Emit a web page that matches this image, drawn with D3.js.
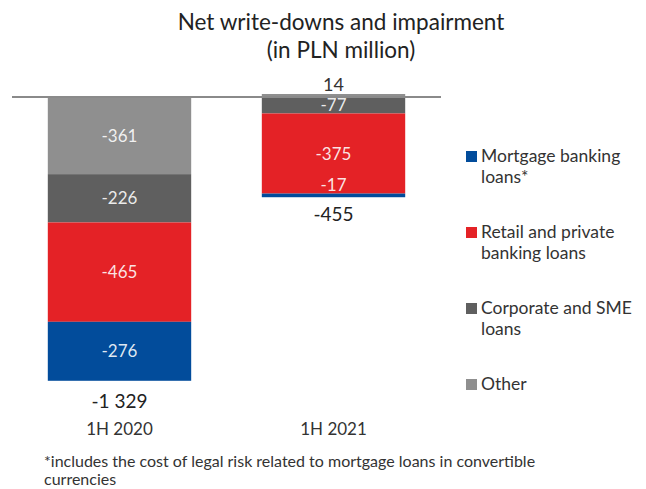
<!DOCTYPE html>
<html>
<head>
<meta charset="utf-8">
<script src="https://cdn.jsdelivr.net/npm/d3@7"></script>
<style>
  html, body { margin: 0; padding: 0; background: #fff; }
  svg { display: block; font-family: Lato, "Liberation Sans", sans-serif; }
</style>
</head>
<body>
<svg id="chart" width="646" height="489"></svg>
<script>
// Half-year periods shown on the axis
const categories = ["1H 2020", "1H 2021"];

// Segments, stacked outward from zero in this order
const seriesNames = ["Other", "Corporate and SME loans", "Retail and private banking loans", "Mortgage banking loans*"];
const otherValues = [-361, 14];
const corporateValues = [-226, -77];
const retailValues = [-465, -375];
const mortgageValues = [-276, -17];

// Totals printed under each bar
const totalValues = [-1329, -455];
const totalLabels = ["-1 329", "-455"];

// Legend entries, top to bottom, with their wrapped lines
const legendNames = ["Mortgage banking loans*", "Retail and private banking loans", "Corporate and SME loans", "Other"];
const legendLines = [["Mortgage banking", "loans*"], ["Retail and private", "banking loans"], ["Corporate and SME", "loans"], ["Other"]];

const colors = {
  "Mortgage banking loans*": "#024c9b",
  "Retail and private banking loans": "#e42226",
  "Corporate and SME loans": "#5f5f5f",
  "Other": "#8f8f8f"
};

const seriesValues = {
  "Other": otherValues,
  "Corporate and SME loans": corporateValues,
  "Retail and private banking loans": retailValues,
  "Mortgage banking loans*": mortgageValues
};

const svg = d3.select("#chart");

// Title
const title = svg.append("text")
  .attr("x", 341).attr("text-anchor", "middle")
  .attr("fill", "#222").attr("font-size", 22.5);
title.append("tspan").attr("x", 341).attr("y", 30).text("Net write-downs and impairment");
title.append("tspan").attr("x", 341).attr("y", 58).text("(in PLN million)");

// Scales
const x = d3.scaleBand().domain(categories).range([5, 448]).paddingInner(0.33).paddingOuter(0.2);
const y = d3.scaleLinear().domain([-1329, 0]).range([381, 97]);

// Stack segments: positives up from zero, negatives down from zero
const segments = [];
categories.forEach((cat, i) => {
  let neg = 0, pos = 0;
  seriesNames.forEach(name => {
    const v = seriesValues[name][i];
    let y0, y1;
    if (v >= 0) { y0 = pos; y1 = pos + v; pos = y1; }
    else { y0 = neg; y1 = neg + v; neg = y1; }
    segments.push({ cat, name, value: v, y0, y1 });
  });
});

const g = svg.append("g");

g.selectAll("rect.seg")
  .data(segments)
  .join("rect")
  .attr("class", "seg")
  .attr("x", d => x(d.cat))
  .attr("width", x.bandwidth())
  .attr("y", d => y(Math.max(d.y0, d.y1)))
  .attr("height", d => Math.abs(y(d.y0) - y(d.y1)))
  .attr("fill", d => colors[d.name]);

// Zero baseline
svg.append("line")
  .attr("x1", 12).attr("x2", 441)
  .attr("y1", y(0)).attr("y2", y(0))
  .attr("stroke", "#8a8a8a").attr("stroke-width", 2);

// Labels inside the negative segments
g.selectAll("text.seg")
  .data(segments.filter(d => d.value < 0))
  .join("text")
  .attr("class", "seg")
  .attr("x", d => x(d.cat) + x.bandwidth() / 2)
  .attr("y", d => {
    const top = y(Math.max(d.y0, d.y1));
    const bot = y(Math.min(d.y0, d.y1));
    if (bot - top < 8) return top - 3; // thin slice: sit just above it
    return (top + bot) / 2 + 6;
  })
  .attr("text-anchor", "middle")
  .attr("font-size", 17)
  .attr("fill", "#fff").attr("fill-opacity", 0.88)
  .text(d => d.value);

// Positive value above the bar
g.selectAll("text.pos")
  .data(segments.filter(d => d.value > 0))
  .join("text")
  .attr("class", "pos")
  .attr("x", d => x(d.cat) + x.bandwidth() / 2)
  .attr("y", d => y(d.y1) - 3)
  .attr("text-anchor", "middle")
  .attr("font-size", 18).attr("fill", "#333")
  .text(d => d.value);

// Totals below each bar
g.selectAll("text.total")
  .data(categories)
  .join("text")
  .attr("class", "total")
  .attr("x", d => x(d) + x.bandwidth() / 2)
  .attr("y", (d, i) => y(totalValues[i]) + 27)
  .attr("text-anchor", "middle")
  .attr("font-size", 19).attr("fill", "#222")
  .text((d, i) => totalLabels[i]);

// Category axis without line or ticks
const axis = svg.append("g")
  .attr("transform", "translate(0,423)")
  .call(d3.axisBottom(x).tickSize(0).tickPadding(0));
axis.select(".domain").remove();
axis.selectAll("text")
  .attr("font-family", "Lato, 'Liberation Sans', sans-serif")
  .attr("font-size", 17).attr("fill", "#333").attr("dy", "0.71em");

// Legend
const legend = svg.append("g").attr("transform", "translate(466,0)");
const entry = legend.selectAll("g")
  .data(legendNames)
  .join("g")
  .attr("transform", (d, i) => `translate(0,${148 + i * 76})`);
entry.append("rect")
  .attr("x", 0).attr("y", 3).attr("width", 11).attr("height", 11)
  .attr("fill", d => colors[d]);
entry.append("text")
  .attr("font-size", 17.5).attr("fill", "#333")
  .selectAll("tspan")
  .data((d, i) => legendLines[i])
  .join("tspan")
  .attr("x", 15)
  .attr("y", (d, j) => 14 + j * 21)
  .text(d => d);

// Footnote
const foot = svg.append("text").attr("font-size", 16).attr("fill", "#333");
foot.append("tspan").attr("x", 44).attr("y", 467)
  .text("*includes the cost of  legal risk related to mortgage loans in convertible");
foot.append("tspan").attr("x", 44).attr("y", 485).text("currencies");
</script>
</body>
</html>
